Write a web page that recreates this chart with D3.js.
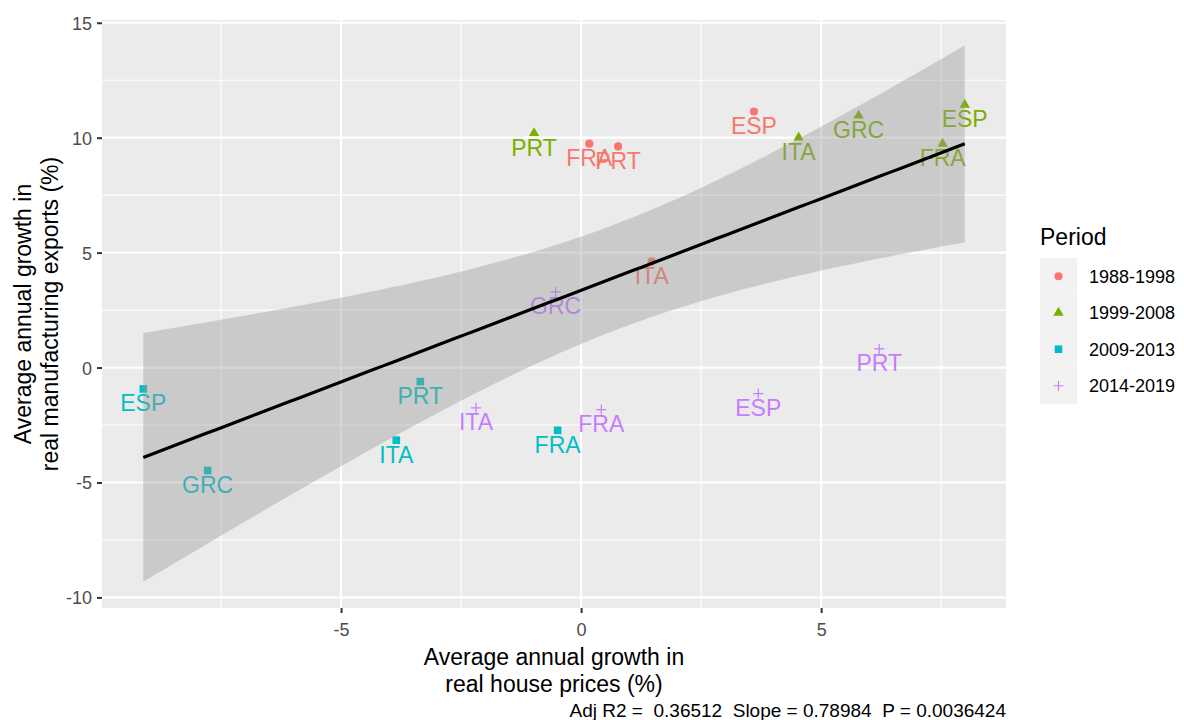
<!DOCTYPE html>
<html>
<head>
<meta charset="utf-8">
<script src="https://cdn.jsdelivr.net/npm/d3@7"></script>
<style>
  html, body { margin: 0; padding: 0; background: #fff; }
  svg { display: block; font-family: "Liberation Sans", Arial, sans-serif; }
</style>
</head>
<body>
<div id="chart"></div>
<script>
// data
const periods = ["1988-1998", "1999-2008", "2009-2013", "2014-2019"];
const periodColors = ["#F8766D", "#7CAE00", "#00BFC4", "#C77CFF"];
const periodShapes = ["circle", "triangle", "square", "plus"];

const country = ["ESP", "FRA", "PRT", "ITA",
                 "PRT", "ITA", "GRC", "ESP", "FRA",
                 "ESP", "GRC", "PRT", "ITA", "FRA",
                 "GRC", "ITA", "FRA", "ESP", "PRT"];
const period = [0, 0, 0, 0,
                1, 1, 1, 1, 1,
                2, 2, 2, 2, 2,
                3, 3, 3, 3, 3];
const housePrices = [3.60, 0.17, 0.77, 1.47,
                     -0.98, 4.53, 5.78, 7.99, 7.53,
                     -9.12, -7.78, -3.35, -3.85, -0.49,
                     -0.53, -2.19, 0.42, 3.69, 6.21];
const exportsGrowth = [11.14, 9.74, 9.62, 4.62,
                       10.20, 10.01, 10.96, 11.43, 9.74,
                       -0.93, -4.48, -0.61, -3.16, -2.73,
                       3.29, -1.75, -1.83, -1.13, 0.81];

const xTicks = [-5, 0, 5];
const xMinor = [-7.5, -2.5, 2.5, 7.5];
const yTicks = [-10, -5, 0, 5, 10, 15];
const yMinor = [-7.5, -2.5, 2.5, 7.5, 12.5];
const statsText = "Adj R2 =  0.36512  Slope = 0.78984  P = 0.0036424";

const points = country.map((c, i) => ({
  country: c, period: period[i], x: housePrices[i], y: exportsGrowth[i]
}));

// linear fit + 95% confidence band (like geom_smooth(method = "lm"))
const n = points.length;
const mx = d3.mean(points, d => d.x), my = d3.mean(points, d => d.y);
const sxx = d3.sum(points, d => (d.x - mx) ** 2);
const sxy = d3.sum(points, d => (d.x - mx) * (d.y - my));
const slope = sxy / sxx, intercept = my - slope * mx;
const sse = d3.sum(points, d => (d.y - intercept - slope * d.x) ** 2);
const sigma = Math.sqrt(sse / (n - 2));
const tq = 2.1098; // t(0.975, 17)
const [xmin, xmax] = d3.extent(points, d => d.x);
const fit = d3.range(80).map(i => {
  const xv = xmin + (xmax - xmin) * i / 79;
  const yv = intercept + slope * xv;
  const se = sigma * Math.sqrt(1 / n + (xv - mx) ** 2 / sxx);
  return { x: xv, y: yv, lo: yv - tq * se, hi: yv + tq * se };
});

const width = 1184, height = 720;
const x = d3.scaleLinear().domain([-9.98, 8.85]).range([102, 1006]);
const y = d3.scaleLinear().domain([-10.46, 15.12]).range([608, 20]);

const svg = d3.select("#chart").append("svg")
  .attr("width", width).attr("height", height);

// panel
svg.append("rect")
  .attr("x", x.range()[0]).attr("y", y.range()[1])
  .attr("width", x.range()[1] - x.range()[0])
  .attr("height", y.range()[0] - y.range()[1])
  .attr("fill", "#EBEBEB");

const grid = svg.append("g").attr("stroke", "#fff");
grid.selectAll(".xmin").data(xMinor).join("line")
  .attr("x1", d => x(d)).attr("x2", d => x(d))
  .attr("y1", y.range()[0]).attr("y2", y.range()[1]).attr("stroke-width", 1.1);
grid.selectAll(".ymin").data(yMinor).join("line")
  .attr("y1", d => y(d)).attr("y2", d => y(d))
  .attr("x1", x.range()[0]).attr("x2", x.range()[1]).attr("stroke-width", 1.1);
grid.selectAll(".xmaj").data(xTicks).join("line")
  .attr("x1", d => x(d)).attr("x2", d => x(d))
  .attr("y1", y.range()[0]).attr("y2", y.range()[1]).attr("stroke-width", 2.2);
grid.selectAll(".ymaj").data(yTicks).join("line")
  .attr("y1", d => y(d)).attr("y2", d => y(d))
  .attr("x1", x.range()[0]).attr("x2", x.range()[1]).attr("stroke-width", 2.2);

// symbols
function symbolPath(shape) {
  if (shape === "circle") return d3.symbol(d3.symbolCircle, 52)();
  if (shape === "triangle") return d3.symbol(d3.symbolTriangle, 46)();
  if (shape === "square") return d3.symbol(d3.symbolSquare, 58)();
  return "M-5,0H5M0,-5V5";
}
function drawSymbol(sel, p) {
  const shape = periodShapes[p], col = periodColors[p];
  sel.append("path")
    .attr("d", symbolPath(shape))
    .attr("fill", shape === "plus" ? "none" : col)
    .attr("stroke", shape === "plus" ? col : "none")
    .attr("stroke-width", 1.2);
}

const pts = svg.append("g").selectAll("g").data(points).join("g")
  .attr("transform", d => `translate(${x(d.x)},${y(d.y)})`);
pts.each(function (d) { drawSymbol(d3.select(this), d.period); });

svg.append("g").selectAll("text").data(points).join("text")
  .attr("x", d => x(d.x))
  .attr("y", d => y(d.y) + 22.5)
  .attr("text-anchor", "middle")
  .attr("font-size", 23)
  .attr("fill", d => periodColors[d.period])
  .text(d => d.country);

// smooth
svg.append("path")
  .datum(fit)
  .attr("fill", "#999999").attr("fill-opacity", 0.4)
  .attr("d", d3.area().x(d => x(d.x)).y0(d => y(d.lo)).y1(d => y(d.hi)));
svg.append("path")
  .datum(fit)
  .attr("fill", "none").attr("stroke", "#000").attr("stroke-width", 3.2)
  .attr("d", d3.line().x(d => x(d.x)).y(d => y(d.y)));

// axes
const fmt = d => String(d);
const axisX = svg.append("g").attr("transform", `translate(0,${y.range()[0]})`)
  .call(d3.axisBottom(x).tickValues(xTicks).tickSize(5).tickPadding(5).tickFormat(fmt));
const axisY = svg.append("g").attr("transform", `translate(${x.range()[0]},0)`)
  .call(d3.axisLeft(y).tickValues(yTicks).tickSize(5).tickPadding(5).tickFormat(fmt));
[axisX, axisY].forEach(a => {
  a.select(".domain").remove();
  a.selectAll(".tick line").attr("stroke", "#333").attr("stroke-width", 2);
  a.selectAll(".tick text").attr("fill", "#4D4D4D").attr("font-size", 18)
    .attr("font-family", "Liberation Sans, Arial, sans-serif");
});
axisX.selectAll(".tick text").attr("dy", "1em");
axisY.selectAll(".tick text").attr("dy", "0.36em");

// axis titles
const xt = svg.append("text").attr("text-anchor", "middle").attr("font-size", 23).attr("fill", "#000");
xt.append("tspan").attr("x", (x.range()[0] + x.range()[1]) / 2).attr("y", 665).text("Average annual growth in");
xt.append("tspan").attr("x", (x.range()[0] + x.range()[1]) / 2).attr("y", 692).text("real house prices (%)");

const ymid = (y.range()[0] + y.range()[1]) / 2;
const yt = svg.append("text").attr("text-anchor", "middle").attr("font-size", 23).attr("fill", "#000")
  .attr("transform", `rotate(-90)`);
yt.append("tspan").attr("x", -ymid).attr("y", 31).text("Average annual growth in");
yt.append("tspan").attr("x", -ymid).attr("y", 58).text("real manufacturing exports (%)");

// stats caption
svg.append("text")
  .attr("x", x.range()[1]).attr("y", 717)
  .attr("text-anchor", "end").attr("font-size", 19).attr("fill", "#000")
  .style("white-space", "pre")
  .text(statsText);

// legend
const lg = svg.append("g").attr("transform", "translate(1040,0)");
lg.append("text").attr("x", 0).attr("y", 245).attr("font-size", 23).text("Period");
const items = lg.selectAll("g.item").data(periods).join("g").attr("class", "item")
  .attr("transform", (d, i) => `translate(0,${258 + i * 36.5})`);
items.append("rect").attr("width", 37).attr("height", 36.5).attr("fill", "#F2F2F2");
items.each(function (d, i) {
  const g = d3.select(this).append("g").attr("transform", "translate(18.5,18.25)");
  drawSymbol(g, i);
});
items.append("text").attr("x", 49).attr("y", 18.25).attr("dy", "0.36em")
  .attr("font-size", 18).attr("fill", "#000").text(d => d);
</script>
</body>
</html>
